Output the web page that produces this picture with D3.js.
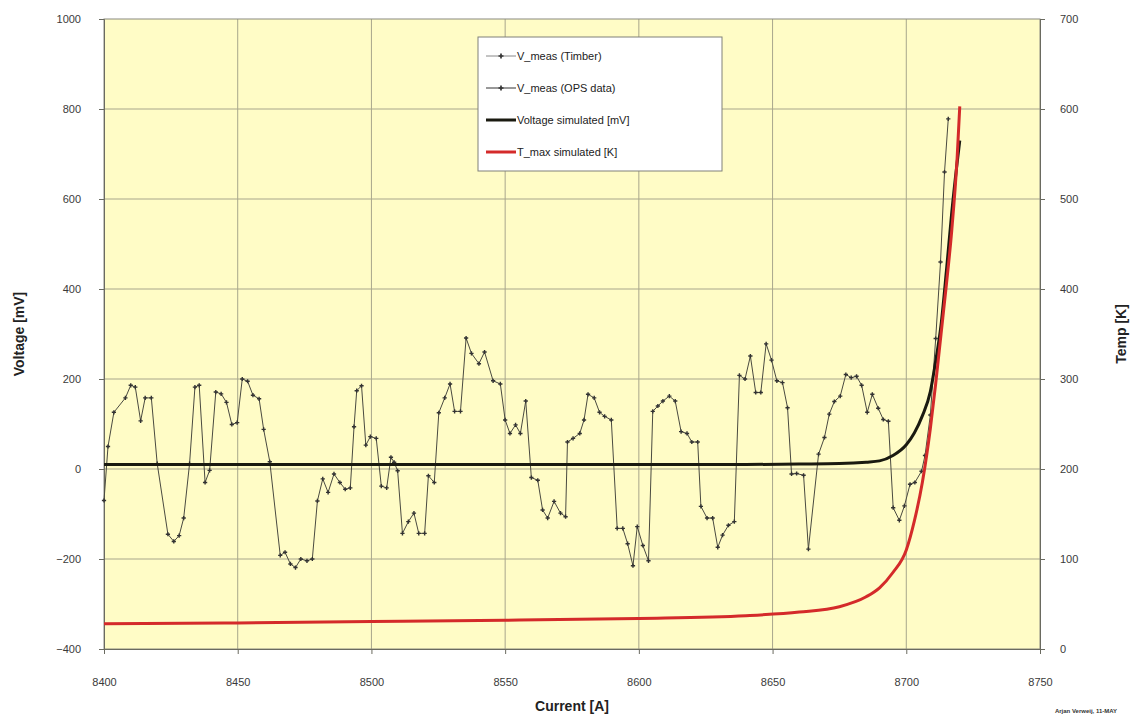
<!DOCTYPE html>
<html>
<head>
<meta charset="utf-8">
<script src="https://cdn.jsdelivr.net/npm/d3@7"></script>
<style>
  body { margin: 0; background: #fff; }
  svg text { font-family: "Liberation Sans", Arial, sans-serif; }
</style>
</head>
<body>
<div id="chart"></div>
<script>
// Measured voltage (OPS data): current [A] and voltage [mV]
const measCurrent = [
  8400, 8401.5, 8403.7, 8408, 8410, 8411.7, 8413.7, 8415.4, 8417.7, 8419.9,
  8423.9, 8426.1, 8428.1, 8429.8, 8432, 8434, 8435.6, 8437.8, 8439.5, 8441.8,
  8443.8, 8445.8, 8447.8, 8449.8, 8451.7, 8453.7, 8455.7, 8458, 8459.7, 8462,
  8465.9, 8467.7, 8469.7, 8471.6, 8473.6, 8475.9, 8477.9, 8479.8, 8481.8, 8483.8,
  8486, 8488.2, 8490.2, 8492.1, 8493.5, 8494.5, 8496.3, 8497.9, 8499.6, 8501.8,
  8503.7, 8505.7, 8507.3, 8508.5, 8509.8, 8511.6, 8513.8, 8515.9, 8517.7, 8519.9,
  8521.3, 8523.5, 8525.2, 8527.4, 8529.4, 8531.1, 8533.3, 8535.4, 8537.4, 8540.2,
  8542.3, 8545.5, 8548.2, 8550, 8551.8, 8553.9, 8555.7, 8557.7, 8559.8, 8562.2,
  8564, 8565.9, 8568.3, 8570.7, 8572.6, 8573.3, 8575.4, 8577.9, 8579.5, 8581,
  8583.3, 8585.3, 8587.2, 8589.7, 8591.9, 8594, 8595.8, 8597.8, 8599.4, 8601.5,
  8603.6, 8605.2, 8607.1, 8609, 8611.4, 8613.6, 8615.8, 8618, 8619.8, 8622,
  8623.2, 8625.5, 8627.6, 8629.5, 8631.3, 8633.5, 8635.7, 8637.6, 8639.7, 8641.7,
  8643.7, 8645.6, 8647.6, 8649.6, 8651.6, 8653.7, 8655.6, 8657.1, 8659, 8661.6,
  8663.4, 8667.2, 8669.4, 8671.2, 8673.1, 8675.3, 8677.4, 8679.4, 8681.4, 8683.3,
  8685.4, 8687.3, 8689.5, 8691.4, 8693.3, 8695.1, 8697.4, 8699.3, 8701.4, 8703.2,
  8705.7, 8707, 8709, 8711, 8712.8, 8714.3, 8715.7
];
const measVoltage = [
  -70, 50, 126, 158, 186, 182, 107, 158, 158, 12,
  -145, -161, -148, -109, 12, 182, 186, -30, -3, 171,
  167, 148, 99, 103, 200, 195, 164, 156, 88, 16,
  -192, -185, -211, -219, -200, -204, -200, -71, -22, -52,
  -11, -30, -45, -42, 94, 174, 185, 53, 72, 68,
  -38, -42, 26, 15, -4, -143, -117, -98, -143, -143,
  -15, -30, 125, 158, 189, 128, 128, 291, 257, 234,
  260, 196, 189, 109, 79, 98, 79, 151, -19, -25,
  -91, -109, -72, -98, -106, 60, 68, 79, 109, 166,
  158, 126, 117, 109, -132, -132, -166, -215, -128, -170,
  -204, 128, 140, 151, 162, 151, 83, 79, 60, 60,
  -83, -109, -109, -174, -147, -125, -117, 208, 200, 251,
  170, 170, 278, 242, 196, 192, 136, -11, -10, -14,
  -178, 33, 70, 122, 150, 162, 210, 203, 206, 186,
  126, 166, 135, 110, 106, -86, -114, -82, -34, -30,
  -5, 30, 120, 290, 460, 660, 778
];

// Simulated curves: current [A], voltage [mV], T_max [K]
const simCurrent = [8400, 8450, 8500, 8550, 8600, 8640, 8660, 8675, 8685, 8690,
  8695, 8700, 8703, 8706, 8709, 8711, 8713, 8715, 8717, 8719, 8720];
const simVoltage = [10, 10, 10, 10, 10, 10, 11, 12, 15, 18,
  30, 54, 80, 118, 172, 240, 320, 440, 570, 680, 730];
const simTemp = [28, 29, 30.5, 32, 34, 37, 41, 47, 58, 68,
  85, 110, 142, 185, 245, 295, 350, 405, 465, 545, 603];

// Axis ticks
const xTicks = [8400, 8450, 8500, 8550, 8600, 8650, 8700, 8750];
const yTicks = [-400, -200, 0, 200, 400, 600, 800, 1000];
const tTicks = [0, 100, 200, 300, 400, 500, 600, 700];

const legendNames = ["V_meas (Timber)", "V_meas (OPS data)", "Voltage simulated [mV]", "T_max simulated [K]"];

const width = 1142;
const height = 721;
const margin = { top: 19, right: 102, bottom: 72, left: 104 };
const plotW = width - margin.left - margin.right;
const plotH = height - margin.top - margin.bottom;

const svg = d3.select("#chart").append("svg")
  .attr("width", width)
  .attr("height", height);

const g = svg.append("g")
  .attr("transform", `translate(${margin.left},${margin.top})`);

// Scales
const x = d3.scaleLinear().domain([8400, 8750]).range([0, plotW]);
const y = d3.scaleLinear().domain([-400, 1000]).range([plotH, 0]);
const yT = d3.scaleLinear().domain([0, 700]).range([plotH, 0]);

// Plot background
g.append("rect")
  .attr("width", plotW)
  .attr("height", plotH)
  .attr("fill", "#fffcc6");

// Gridlines
g.append("g").selectAll("line")
  .data(xTicks.slice(1, -1))
  .join("line")
  .attr("x1", d => x(d)).attr("x2", d => x(d))
  .attr("y1", 0).attr("y2", plotH)
  .attr("stroke", "#a8a68c").attr("stroke-width", 1);

g.append("g").selectAll("line")
  .data(yTicks.slice(1, -1))
  .join("line")
  .attr("x1", 0).attr("x2", plotW)
  .attr("y1", d => y(d)).attr("y2", d => y(d))
  .attr("stroke", "#a8a68c").attr("stroke-width", 1);

g.append("rect")
  .attr("width", plotW)
  .attr("height", plotH)
  .attr("fill", "none")
  .attr("stroke", "#8a8a80");

// Axes
const fmt = d3.format("d");
const xAxis = g.append("g")
  .attr("transform", `translate(0,${plotH})`)
  .call(d3.axisBottom(x).tickValues(xTicks).tickFormat(fmt).tickSize(5).tickPadding(24));
const yAxis = g.append("g")
  .call(d3.axisLeft(y).tickValues(yTicks).tickFormat(fmt).tickSize(5).tickPadding(18));
const tAxis = g.append("g")
  .attr("transform", `translate(${plotW},0)`)
  .call(d3.axisRight(yT).tickValues(tTicks).tickFormat(fmt).tickSize(5).tickPadding(15));

[xAxis, yAxis, tAxis].forEach(a => {
  a.select(".domain").attr("stroke", "#6a6a60");
  a.selectAll(".tick line").attr("stroke", "#6a6a60");
  a.selectAll(".tick text").attr("fill", "#3a3a3a").style("font-size", "11px");
});

// Measured trace
const measData = measCurrent.map((c, i) => ({ c, v: measVoltage[i] }));
const lineMeas = d3.line().x(d => x(d.c)).y(d => y(d.v));
g.append("path")
  .datum(measData)
  .attr("fill", "none")
  .attr("stroke", "#4a4a40")
  .attr("stroke-width", 1)
  .attr("d", lineMeas);

g.append("g").selectAll("path")
  .data(measData)
  .join("path")
  .attr("transform", d => `translate(${x(d.c)},${y(d.v)})`)
  .attr("d", d3.symbol().type(d3.symbolCross).size(10))
  .attr("fill", "#333");

// Simulated curves
const simData = simCurrent.map((c, i) => ({ c, v: simVoltage[i], t: simTemp[i] }));

g.append("path")
  .datum(simData)
  .attr("fill", "none")
  .attr("stroke", "#1a1a10")
  .attr("stroke-width", 3)
  .attr("d", d3.line().curve(d3.curveMonotoneX).x(d => x(d.c)).y(d => y(d.v)));

g.append("path")
  .datum(simData)
  .attr("fill", "none")
  .attr("stroke", "#d42a2a")
  .attr("stroke-width", 3)
  .attr("d", d3.line().curve(d3.curveMonotoneX).x(d => x(d.c)).y(d => yT(d.t)));

// Legend
const legend = svg.append("g").attr("transform", "translate(478,37)");
legend.append("rect")
  .attr("width", 244)
  .attr("height", 134)
  .attr("fill", "#fff")
  .attr("stroke", "#808078");

const legendStyle = [
  { color: "#888", w: 1, marker: true },
  { color: "#333", w: 1, marker: true },
  { color: "#1a1a10", w: 3, marker: false },
  { color: "#d42a2a", w: 3, marker: false }
];

const items = legend.selectAll(".legend-item")
  .data(legendNames)
  .join("g")
  .attr("class", "legend-item")
  .attr("transform", (d, i) => `translate(0,${19 + i * 32})`);

items.append("line")
  .attr("x1", 8).attr("x2", 38)
  .attr("stroke", (d, i) => legendStyle[i].color)
  .attr("stroke-width", (d, i) => legendStyle[i].w);

items.filter((d, i) => legendStyle[i].marker)
  .append("path")
  .attr("transform", "translate(23,0)")
  .attr("d", d3.symbol().type(d3.symbolCross).size(14))
  .attr("fill", "#333");

items.append("text")
  .attr("x", 39)
  .attr("dy", "0.35em")
  .attr("fill", "#222")
  .style("font-size", "11px")
  .text(d => d);

// Axis titles
svg.append("text")
  .attr("transform", `translate(24,${margin.top + plotH / 2}) rotate(-90)`)
  .attr("text-anchor", "middle")
  .style("font-size", "14px")
  .style("font-weight", "bold")
  .attr("fill", "#222")
  .text("Voltage [mV]");

svg.append("text")
  .attr("transform", `translate(1126,${margin.top + plotH / 2}) rotate(-90)`)
  .attr("text-anchor", "middle")
  .style("font-size", "14px")
  .style("font-weight", "bold")
  .attr("fill", "#222")
  .text("Temp [K]");

svg.append("text")
  .attr("x", margin.left + plotW / 2)
  .attr("y", 711)
  .attr("text-anchor", "middle")
  .style("font-size", "14px")
  .style("font-weight", "bold")
  .attr("fill", "#222")
  .text("Current [A]");

// Author note
svg.append("text")
  .attr("x", 1086)
  .attr("y", 713)
  .attr("text-anchor", "middle")
  .style("font-size", "6px")
  .style("font-weight", "bold")
  .attr("fill", "#333")
  .text("Arjan Verweij, 11-MAY");
</script>
</body>
</html>
